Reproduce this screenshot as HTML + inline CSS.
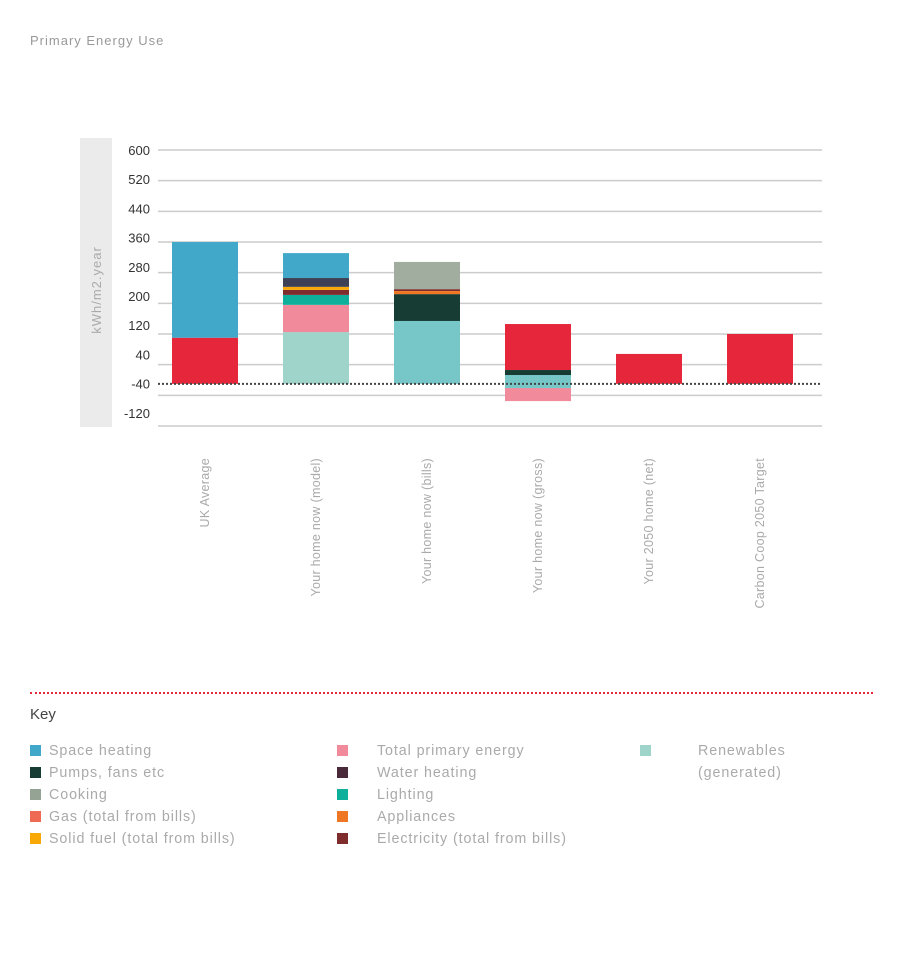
<!DOCTYPE html>
<html><head><meta charset="utf-8">
<style>
body{margin:0;width:900px;height:958px;background:#fff;font-family:"Liberation Sans",sans-serif;position:relative;overflow:hidden}
.t{position:absolute;color:#999;font-size:13px;letter-spacing:1px}
.lg{position:absolute;font-size:14.3px;color:#aaa;letter-spacing:0.9px}
.sw{position:absolute;width:11px;height:11px}
</style></head><body>
<div class="t" style="left:30px;top:33px">Primary Energy Use</div>
<svg id="c" width="900" height="680" style="position:absolute;left:0;top:0"></svg>
<div style="position:absolute;left:30px;top:692px;width:843px;border-top:2px dotted #e6263a"></div>
<div style="position:absolute;left:30px;top:706px;font-size:15px;color:#444">Key</div>
<div id="legend"></div>
<script>
const categories=["UK Average","Your home now (model)","Your home now (bills)","Your home now (gross)","Your 2050 home (net)","Carbon Coop 2050 Target"];
const ticks=[600,520,440,360,280,200,120,40,-40,-120];
const baseline=-10;
// stacked segment ranges [from,to] per category (null = absent)
const spaceHeating=[[110,360],[266,331],null,null,null,null];
const totalPrimary=[[-10,110],null,null,[26,146],[-10,68],[-10,120]];
const renewables=[null,[-10,125],null,null,null,null];
const pinkTotal=[null,[125,196],null,[-55,-21],null,null];
const lighting=[null,[196,222],null,null,null,null];
const electricity=[null,[222,235],[232,237],null,null,null];
const solidFuel=[null,[235,243],null,null,null,null];
const waterHeating=[null,[243,266],null,null,null,null];
const renewablesBills=[null,null,[-10,154],[-21,13],null,null];
const pumps=[null,null,[154,224],[13,26],null,null];
const appliances=[null,null,[224,232],null,null,null];
const cooking=[null,null,[237,308],null,null,null];
const series=[["space-heating",spaceHeating,"#41a8c9"],["total-primary-energy",totalPrimary,"#e6263a"],["renewables",renewables,"#9ed4ca"],["total-primary-pink",pinkTotal,"#f18b9c"],["lighting",lighting,"#0eb09b"],["electricity",electricity,"#7e2c2c"],["solid-fuel",solidFuel,"#f8a908"],["water-heating",waterHeating,"#3e4055"],["renewables-generated",renewablesBills,"#77c7c9"],["pumps-fans",pumps,"#163c33"],["appliances",appliances,"#ef7622"],["cooking",cooking,"#a1ae9f"]];
const svg=document.getElementById('c');const NS="http://www.w3.org/2000/svg";
const y=v=>380-v*0.38333;
const x=i=>172+i*111;
function mk(t,a){const e=document.createElementNS(NS,t);for(const k in a)e.setAttribute(k,a[k]);svg.appendChild(e);return e;}
let band=mk('rect',{x:80,y:138,width:32,height:289,fill:'#ebebeb'});


let yt=mk('text',{x:0,y:0,transform:'translate(101,290) rotate(-90)','text-anchor':'middle','font-size':13,fill:'#aaa','letter-spacing':1});
yt.textContent='kWh/m2.year';


ticks.forEach((t,i)=>{
 let g=mk('line',{x1:158,x2:822,y1:y(t),y2:y(t),stroke:'#ccc','stroke-width':1.5});
 
 
 let l=mk('text',{x:150,y:150+i*29.2+5,'text-anchor':'end','font-size':13,fill:'#333'});
 l.textContent=t;
 
 
});
series.forEach(s=>{s[1].forEach((r,i)=>{if(!r)return;
 let b=mk('rect',{x:x(i),width:66,y:y(r[1]),height:y(r[0])-y(r[1]),fill:s[2]});
 
 
});});
let z=mk('line',{x1:158,x2:822,y1:y(baseline),y2:y(baseline),stroke:'#444','stroke-width':2,'stroke-dasharray':'2,2'});


categories.forEach((c,i)=>{
 let t=mk('text',{x:0,y:0,transform:`translate(${x(i)+37},458) rotate(-90)`,'text-anchor':'end','font-size':12.5,fill:'#aaa','letter-spacing':0.3});
 t.textContent=c;
 
 
});
const legendItems=[["Space heating","#41a8c9",30,49,752],["Pumps, fans etc","#163c33",30,49,774],["Cooking","#94a393",30,49,796],["Gas (total from bills)","#ef6a55",30,49,818],["Solid fuel (total from bills)","#f8a908",30,49,840],["Total primary energy","#f18b9c",337,377,752],["Water heating","#4a2a3a",337,377,774],["Lighting","#0eb09b",337,377,796],["Appliances","#ef7622",337,377,818],["Electricity (total from bills)","#7e2c2c",337,377,840],["Renewables","#9ed4ca",640,698,752]];
const L=document.getElementById('legend');
legendItems.forEach(it=>{
 let s=document.createElement('div');s.className='sw';s.style.cssText=`left:${it[2]}px;top:${it[4]-7}px;background:${it[1]}`;
 
 
 L.appendChild(s);
 let t=document.createElement('div');t.className='lg';t.style.cssText=`left:${it[3]}px;top:${it[4]-9}px`;t.textContent=it[0];
 
 
 L.appendChild(t);
});
let g2=document.createElement('div');g2.className='lg';g2.style.cssText='left:698px;top:765px';g2.textContent='(generated)';


L.appendChild(g2);
</script>
</body></html>
